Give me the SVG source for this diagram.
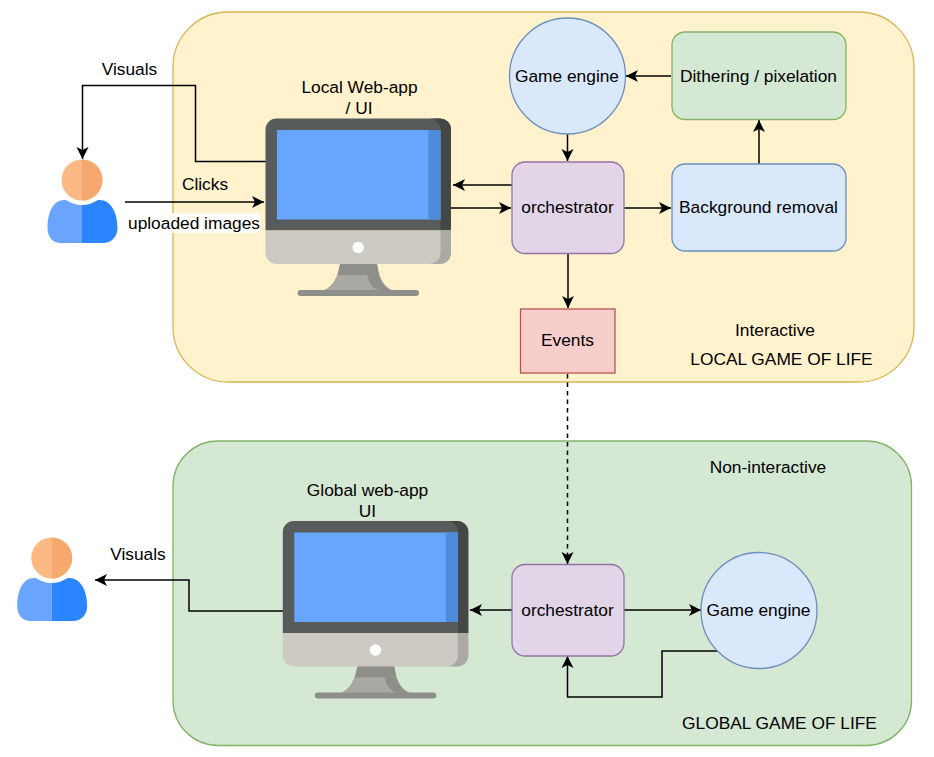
<svg xmlns="http://www.w3.org/2000/svg" xmlns:xlink="http://www.w3.org/1999/xlink" width="934" height="757" viewBox="0 0 934 757">
<style>
text{font-family:"Liberation Sans",Arial,sans-serif;font-size:17.330px;fill:#000;text-anchor:middle}
.c{fill:none;stroke:#000;stroke-width:1.5;marker-end:url(#a)}
.n{stroke-width:1.3}
.blue{fill:#dae8fc;stroke:#6c8ebf}
.purple{fill:#e1d5e7;stroke:#9673a6}
</style>
<defs>
<marker id="a" markerUnits="userSpaceOnUse" markerWidth="14" markerHeight="12" refX="12" refY="6" orient="auto" overflow="visible">
<path d="M0 0L12 6L0 12L3 6Z" fill="#000"/>
</marker>
<g id="monitor">
<path d="M0 11a11 11 0 0 1 11-11H174a11 11 0 0 1 11.500 11V112H0Z" fill="#585b5c"/>
<path d="M164 0H174a11 11 0 0 1 11.500 11V112H175V11A11 11 0 0 0 164 0Z" fill="#454747"/>
<rect x="11.500" y="11.500" width="163.500" height="89.500" fill="#68a5ff"/>
<rect x="163" y="11.500" width="12" height="89.500" fill="#4e8bd8"/>
<path d="M0 112H185.500V134a11 11 0 0 1-11 11.500H11A11 11 0 0 1 0 134Z" fill="#cdcac4"/>
<path d="M175 112H185.500V134a11 11 0 0 1-11 11.500H164A11 11 0 0 0 175 134Z" fill="#aaa9a4"/>
<circle cx="92.700" cy="129" r="5.700" fill="#fff"/>
<path d="M74.500 145.500H111.500C113 158 118 168 127 172H58C67 168 73 158 74.500 145.500Z" fill="#a9a8a2"/>
<path d="M74.500 145.500H111.500L113.500 156.500H72Z" fill="#8e8f8b"/>
<path d="M102 156.500H113.500C116 165 121 170 127 172H115C108 170 103 165 102 156.500Z" fill="#8e8f8b"/>
<rect x="32" y="171.500" width="121.500" height="6" rx="3" fill="#8e8f8b"/>
</g>
<g id="person">
<circle cx="82" cy="180" r="20.500" fill="#fdb984"/>
<path d="M82 159.500a20.500 20.500 0 0 1 0 41Z" fill="#f5a96e"/>
<path d="M66 200C71 203 76 205 82 205V243H61C53 243 47.500 237 47.500 228C47.500 213 53 199 66 200Z" fill="#69a5ff"/>
<path d="M98 200C93 203 88 205 82 205V243H103C111 243 117.500 237 117.500 228C117.500 213 111 199 98 200Z" fill="#2a85ff"/>
</g>
</defs>
<rect width="934" height="757" fill="#fff"/>
<g id="local-panel"><rect x="173" y="12" width="741" height="370" rx="55" fill="#fff2cc" stroke="#d6b656" stroke-width="1.300"/></g>
<g id="global-panel"><rect x="173" y="441" width="738.500" height="304.500" rx="45" fill="#d5e8d4" stroke="#82b366" stroke-width="1.300"/></g>

<g id="connectors">
<path class="c" d="M266 161.500H195.500V85.500H82.500V159"/>
<path class="c" d="M125 202H264"/>
<path class="c" d="M512 185H453"/>
<path class="c" d="M451 208H511"/>
<path class="c" d="M567.500 134V161"/>
<path class="c" d="M671 76H626"/>
<path class="c" d="M624 208H671"/>
<path class="c" d="M759 164V120"/>
<path class="c" d="M568 254V308"/>
<path class="c" d="M567.500 374V564" stroke-dasharray="4.500 4"/>
<path class="c" d="M283 611H189V580H95"/>
<path class="c" d="M512 610H470"/>
<path class="c" d="M624 610H701"/>
<path class="c" d="M718 651H662V697H567.500V656"/>
</g>

<g id="user-top"><use href="#person"/></g>
<g id="user-bottom"><use href="#person" x="-30.300" y="378"/></g>
<g id="monitor-local"><use href="#monitor" x="265.500" y="118.500"/></g>
<g id="monitor-global"><use href="#monitor" x="282.800" y="521"/></g>

<g id="game-engine-local"><circle class="blue n" cx="567.500" cy="76" r="58"/><text x="567" y="81.500">Game engine</text></g>
<g id="dithering"><rect x="672" y="32" width="174" height="87.500" rx="13" fill="#d5e8d4" stroke="#82b366" stroke-width="1.300"/><text x="758.500" y="81.500">Dithering / pixelation</text></g>
<g id="orchestrator-local"><rect class="purple n" x="512" y="162" width="112" height="91.500" rx="13"/><text x="567.500" y="213">orchestrator</text></g>
<g id="background-removal"><rect class="blue n" x="672" y="164" width="174" height="87" rx="13"/><text x="758.500" y="213">Background removal</text></g>
<g id="events"><rect x="520.500" y="309" width="94.500" height="64" fill="#f8cecc" stroke="#b85450" stroke-width="1.300"/><text x="567.500" y="346">Events</text></g>
<g id="orchestrator-global"><rect class="purple n" x="512" y="564.500" width="112" height="91.500" rx="13"/><text x="567.500" y="616">orchestrator</text></g>
<g id="game-engine-global"><circle class="blue n" cx="759" cy="610.500" r="58"/><text x="758.500" y="616">Game engine</text></g>

<g id="labels">
<text x="129.500" y="74.500">Visuals</text>
<text x="359.500" y="93">Local Web-app</text>
<text x="359" y="113.500">/ UI</text>
<text x="205" y="189.500">Clicks</text>
<rect x="128" y="213" width="132" height="20" fill="#fff" fill-opacity=".9"/>
<text x="194" y="228.500">uploaded images</text>
<text x="775" y="335.500">Interactive</text>
<text x="781.500" y="364.500">LOCAL GAME OF LIFE</text>
<text x="768" y="472.500">Non-interactive</text>
<text x="367.500" y="495.500">Global web-app</text>
<text x="367.500" y="516.500">UI</text>
<text x="138" y="559.500">Visuals</text>
<text x="779.500" y="728.500">GLOBAL GAME OF LIFE</text>
</g>
</svg>
